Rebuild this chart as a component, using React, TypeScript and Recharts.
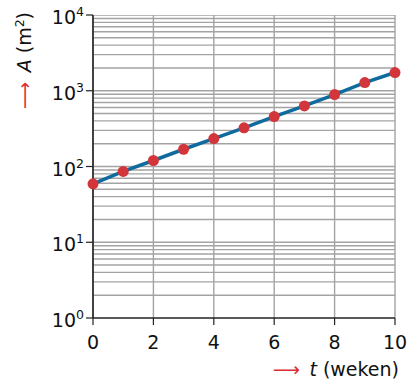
import React from 'react';
import { LineChart, Line, XAxis, YAxis, CartesianGrid, ReferenceLine } from 'recharts';

const weeks = [0, 1, 2, 3, 4, 5, 6, 7, 8, 9, 10];
const area = [59, 86, 120, 169, 234, 324, 456, 631, 891, 1282, 1740];
const xTicks = [0, 2, 4, 6, 8, 10];
const yTicks = [1, 10, 100, 1000, 10000];
const minorGrid = [
  2, 3, 4, 5, 6, 7, 8, 9,
  10, 20, 30, 40, 50, 60, 70, 80, 90,
  100, 200, 300, 400, 500, 600, 700, 800, 900,
  1000, 2000, 3000, 4000, 5000, 6000, 7000, 8000, 9000, 10000,
];

const data = weeks.map((t, i) => ({ t, A: area[i] }));

const FONT = '"DejaVu Sans", sans-serif';
const RED = '#dc2f35';
const GRID = '#a3a3a3';

const YTick = (props: any) => {
  const { x, y, payload } = props;
  const exp = Math.round(Math.log10(payload.value));
  return (
    <text x={x} y={y + 9} textAnchor="end" fontFamily={FONT} fontSize={19} fill="#111">
      10
      <tspan dy={-8} fontSize={12.5}>{exp}</tspan>
    </text>
  );
};

const XTick = (props: any) => {
  const { x, y, payload } = props;
  return (
    <text x={x} y={y + 22} textAnchor="middle" fontFamily={FONT} fontSize={19} fill="#111">
      {payload.value}
    </text>
  );
};

const YLabel = () => (
  <text
    x={31}
    y={60.5}
    transform="rotate(-90, 31, 60.5)"
    textAnchor="middle"
    fontFamily={FONT}
    fontSize={19}
    fill="#111"
  >
    <tspan fill={RED}>{'\u27F6'}</tspan>
    <tspan fontStyle="italic">{'\u2002A'}</tspan>
    <tspan>{' (m'}</tspan>
    <tspan dy={-7} fontSize={12.5}>2</tspan>
    <tspan dy={7}>)</tspan>
  </text>
);

const XLabel = () => (
  <text x={399} y={376} textAnchor="end" fontFamily={FONT} fontSize={19} fill="#111">
    <tspan fill={RED}>{'\u27F6'}</tspan>
    <tspan fontStyle="italic">{'\u2002t'}</tspan>
    <tspan>{' (weken)'}</tspan>
  </text>
);

export default function App() {
  return (
    <div style={{ position: 'absolute', left: 0, top: 0, width: 410, height: 382, background: '#fff' }}>
      <LineChart width={410} height={382} data={data} margin={{ top: 15, right: 15, left: 0, bottom: 0 }}>
        <CartesianGrid
          stroke={GRID}
          strokeWidth={1.4}
          horizontal={false}
          verticalValues={xTicks}
        />
        {minorGrid.map((v) => (
          <ReferenceLine key={v} y={v} stroke={GRID} strokeWidth={1.4} ifOverflow="hidden" />
        ))}
        <XAxis
          dataKey="t"
          type="number"
          domain={[0, 10]}
          ticks={xTicks}
          height={64}
          tick={<XTick />}
          tickSize={7}
          axisLine={{ stroke: '#222', strokeWidth: 1.6 }}
          tickLine={{ stroke: '#222', strokeWidth: 1.2 }}
          label={{ content: () => <XLabel /> }}
        />
        <YAxis
          type="number"
          scale="log"
          domain={[1, 10000]}
          allowDataOverflow
          ticks={yTicks}
          width={93}
          tick={<YTick />}
          tickSize={7}
          axisLine={{ stroke: '#222', strokeWidth: 1.6 }}
          tickLine={{ stroke: '#222', strokeWidth: 1.2 }}
          label={{ content: () => <YLabel /> }}
        />
        <Line
          dataKey="A"
          type="linear"
          stroke="#0f6b9e"
          strokeWidth={3.5}
          dot={{ r: 5.5, fill: '#d3363a', stroke: 'none' }}
          isAnimationActive={false}
        />
      </LineChart>
    </div>
  );
}
